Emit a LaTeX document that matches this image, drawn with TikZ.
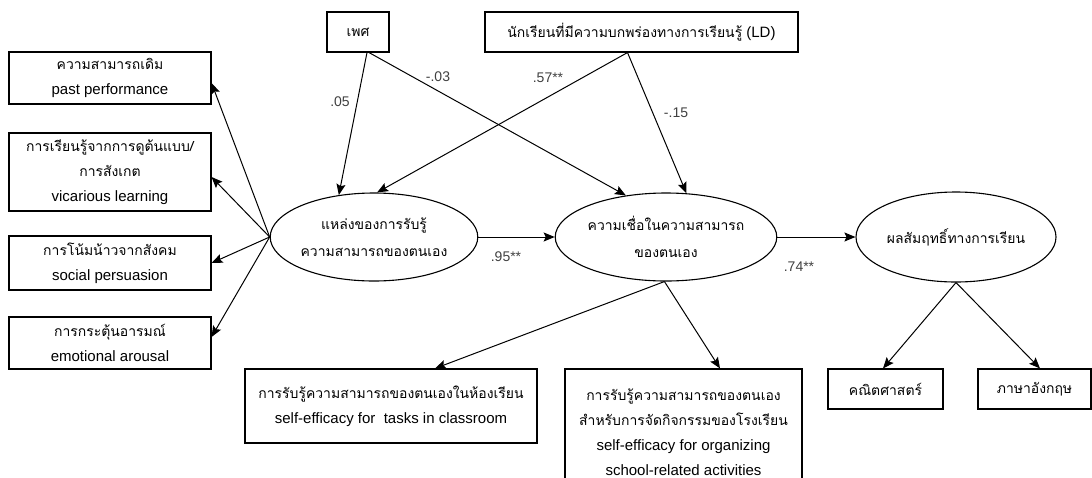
\documentclass[tikz,border=0pt]{standalone}
\usepackage{fontspec}
\setmainfont{Liberation Sans}
\newfontfamily\thai[Script=Thai,Scale=0.93]{Loma}
\usetikzlibrary{shapes.geometric,arrows.meta}
\begin{document}
\begin{tikzpicture}[x=1pt,y=-1pt,
  txt/.style={font=\fontsize{15}{25}\selectfont},
  box/.style={txt,draw,line width=1.1pt,inner sep=0pt,align=center},
  oval/.style={txt,draw,ellipse,line width=1.1pt,inner sep=0pt,align=center},
  arr/.style={line width=1pt,-{Stealth[length=11pt,width=9pt,inset=2pt]}},
  coef/.style={font=\fontsize{14}{16}\selectfont,text=black!75,inner sep=0pt}
]
\useasboundingbox (0,0) rectangle (1092,477);
\clip (0,0) rectangle (1092,477);

% sources of self-efficacy
\node[box,minimum width=202pt,minimum height=52pt] (b1) at (110,78)
  {{\thai ความสามารถเดิม}\\past performance};
\node[box,minimum width=202pt,minimum height=78pt] (b2) at (110,172)
  {{\thai การเรียนรู้จากการดูต้นแบบ/}\\{\thai การสังเกต}\\vicarious learning};
\node[box,minimum width=202pt,minimum height=54pt] (b3) at (110,263)
  {{\thai การโน้มน้าวจากสังคม}\\social persuasion};
\node[box,minimum width=202pt,minimum height=52pt] (b4) at (110,343)
  {{\thai การกระตุ้นอารมณ์}\\emotional arousal};

% background variables
\node[box,minimum width=62pt,minimum height=40pt] (sex) at (358,32) {\thai เพศ};
\node[box,minimum width=313pt,minimum height=40pt] (ld) at (641.5,32)
  {{\thai นักเรียนที่มีความบกพร่องทางการเรียนรู้} (LD)};

% latent variables
\node[oval,minimum width=202pt,minimum height=88pt,font=\fontsize{15}{27}\selectfont] (e1) at (374,237)
  {{\thai แหล่งของการรับรู้}\\{\thai ความสามารถของตนเอง}};
\node[oval,minimum width=198pt,minimum height=88pt,font=\fontsize{15}{27}\selectfont] (e2) at (666,237)
  {{\thai ความเชื่อในความสามารถ}\\{\thai ของตนเอง}};
\node[oval,minimum width=200pt,minimum height=90pt] (e3) at (956,237)
  {\thai ผลสัมฤทธิ์ทางการเรียน};

% indicators
\node[box,minimum width=292pt,minimum height=74pt] (cls) at (391,406)
  {{\thai การรับรู้ความสามารถของตนเองในห้องเรียน}\\self-efficacy for\ \ tasks in classroom};
\node[box,minimum width=237pt,minimum height=126pt] (sch) at (683.5,432)
  {{\thai การรับรู้ความสามารถของตนเอง}\\{\thai สำหรับการจัดกิจกรรมของโรงเรียน}\\self-efficacy for organizing\\school-related activities};
\node[box,minimum width=115pt,minimum height=40pt] (math) at (885.5,389) {\thai คณิตศาสตร์};
\node[box,minimum width=113pt,minimum height=40pt] (eng) at (1034.5,389) {\thai ภาษาอังกฤษ};

% paths
\draw[arr] (e1.west) -- ([yshift=-5pt]b1.east);
\draw[arr] (e1.west) -- ([yshift=-5pt]b2.east);
\draw[arr] (e1.west) -- (b3.east);
\draw[arr] (e1.west) -- ([yshift=6pt]b4.east);

\draw[arr] ([xshift=9pt]sex.south) -- (e1.130);
\draw[arr] ([xshift=11pt]sex.south) -- (e2.134);
\draw[arr] ([xshift=-14pt]ld.south) -- (e1.86);
\draw[arr] ([xshift=-14pt]ld.south) -- (e2.65);

\draw[arr] (e1.east) -- (e2.west);
\draw[arr] (e2.east) -- (e3.west);

\draw[arr] (e2.268) -- ([xshift=44pt]cls.north);
\draw[arr] (e2.268) -- ([xshift=36.5pt]sch.north);
\draw[arr] (e3.south) -- ([xshift=-2.5pt]math.north);
\draw[arr] (e3.south) -- ([xshift=5.5pt]eng.north);

% path coefficients
\node[coef] (c1) at (340,102) {.05};
\node[coef] (c2) at (438,77) {-.03};
\node[coef] (c3) at (548,78) {.57**};
\node[coef] (c4) at (676,113) {-.15};
\node[coef] (c5) at (506,257) {.95**};
\node[coef] (c6) at (799,267) {.74**};
\end{tikzpicture}
\end{document}
